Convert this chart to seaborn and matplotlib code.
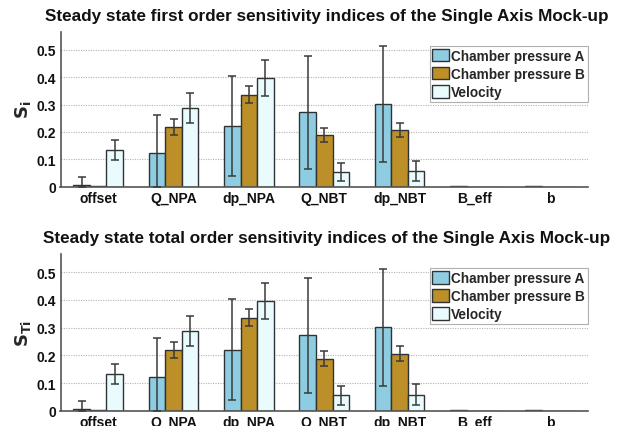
import numpy as np
import pandas as pd
import matplotlib
matplotlib.use("Agg")
import matplotlib.pyplot as plt
import seaborn as sns

categories = ["offset", "Q_NPA", "dp_NPA", "Q_NBT", "dp_NBT", "B_eff", "b"]
series = ["Chamber pressure A", "Chamber pressure B", "Velocity"]

val_A = [0.005, 0.123, 0.221, 0.272, 0.302, 0.001, 0.002]
lo_A = [0.0, 0.0, 0.040, 0.065, 0.090, np.nan, np.nan]
hi_A = [0.035, 0.263, 0.403, 0.479, 0.512, np.nan, np.nan]

val_B = [0.002, 0.218, 0.336, 0.188, 0.206, 0.0, 0.0]
lo_B = [np.nan, 0.190, 0.305, 0.162, 0.180, np.nan, np.nan]
hi_B = [np.nan, 0.247, 0.368, 0.215, 0.233, np.nan, np.nan]

val_V = [0.133, 0.287, 0.396, 0.055, 0.058, 0.0, 0.0]
lo_V = [0.098, 0.233, 0.330, 0.022, 0.021, np.nan, np.nan]
hi_V = [0.170, 0.341, 0.461, 0.088, 0.095, np.nan, np.nan]

titles = ["Steady state first order sensitivity indices of the Single Axis Mock-up",
          "Steady state total order sensitivity indices of the Single Axis Mock-up"]
ylabels = [r"$\mathbf{S_i}$", r"$\mathbf{S_{Ti}}$"]
yticks = [0, 0.1, 0.2, 0.3, 0.4, 0.5]
ytick_labels = ["0", "0.1", "0.2", "0.3", "0.4", "0.5"]

colors = ["#8ECDE1", "#BC8F28", "#E9FBFC"]
edge = "#2F3336"

sns.set_theme(style="white")
plt.rcParams["font.family"] = ["Liberation Sans", "DejaVu Sans"]
plt.rcParams["font.weight"] = "bold"

df = pd.DataFrame({
    "category": categories * 3,
    "series": [series[0]] * 7 + [series[1]] * 7 + [series[2]] * 7,
    "value": val_A + val_B + val_V,
})
los = [lo_A, lo_B, lo_V]
his = [hi_A, hi_B, hi_V]

W, H = 617, 427
fig = plt.figure(figsize=(W / 100, H / 100), dpi=100)

panels = [(32.7, 187.7), (255.0, 411.7)]
title_y = [16, 239]
left_px, right_px = 60.5, 588

for k, (top, bot) in enumerate(panels):
    ax = fig.add_axes([left_px / W, 1 - bot / H, (right_px - left_px) / W, (bot - top) / H])
    sns.barplot(data=df, x="category", y="value", hue="series", order=categories,
                hue_order=series, palette=colors, width=0.66, ax=ax,
                edgecolor=edge, linewidth=1.0, errorbar=None, saturation=1)
    bar_conts = list(ax.containers)[:3]
    for i, cont in enumerate(bar_conts):
        for j, bar in enumerate(cont):
            lo, hi = los[i][j], his[i][j]
            if np.isnan(lo):
                continue
            xc = bar.get_x() + bar.get_width() / 2
            ax.errorbar([xc], [bar.get_height()],
                        yerr=[[bar.get_height() - lo], [hi - bar.get_height()]],
                        fmt="none", ecolor="#3a3a3a", elinewidth=1.1, capsize=3,
                        capthick=1.1, zorder=5)
    ax.set_xlim(-0.5, 6.5)
    ax.set_ylim(0, 0.566)
    ax.set_yticks(yticks)
    ax.set_yticklabels(ytick_labels)
    ax.yaxis.grid(True, linestyle=(0, (1, 1.2)), color="#b4b4b4", linewidth=0.8)
    ax.set_axisbelow(True)
    for s in ["top", "right"]:
        ax.spines[s].set_visible(False)
    for s in ["left", "bottom"]:
        ax.spines[s].set_color("#555555")
        ax.spines[s].set_linewidth(1.2)
    ax.tick_params(axis="both", length=0, labelsize=10, pad=3, colors="#111111")
    for lab in ax.get_xticklabels() + ax.get_yticklabels():
        lab.set_fontweight("bold")
    ax.set_xlabel("")
    ax.set_ylabel(ylabels[k], fontsize=13, labelpad=3)
    fig.text(327 / W, 1 - title_y[k] / H, titles[k], fontsize=12.3, fontweight="bold",
             ha="center", va="center", color="#111111")
    leg = ax.legend(loc="upper right", bbox_to_anchor=(1.0, (bot - 47 - (top - 32.7)) / (bot - top)),
                    borderaxespad=0, frameon=True, fancybox=False, framealpha=1,
                    edgecolor="#b0b0b0", prop={"weight": "bold", "size": 9.8},
                    handlelength=1.25, handleheight=1.05, handletextpad=0.15,
                    labelspacing=0.3, borderpad=0.2)
    leg.get_frame().set_linewidth(0.8)
    for h in leg.legend_handles:
        h.set_edgecolor(edge)
        h.set_linewidth(1.0)

fig.savefig("out.png", dpi=100, facecolor="white")
